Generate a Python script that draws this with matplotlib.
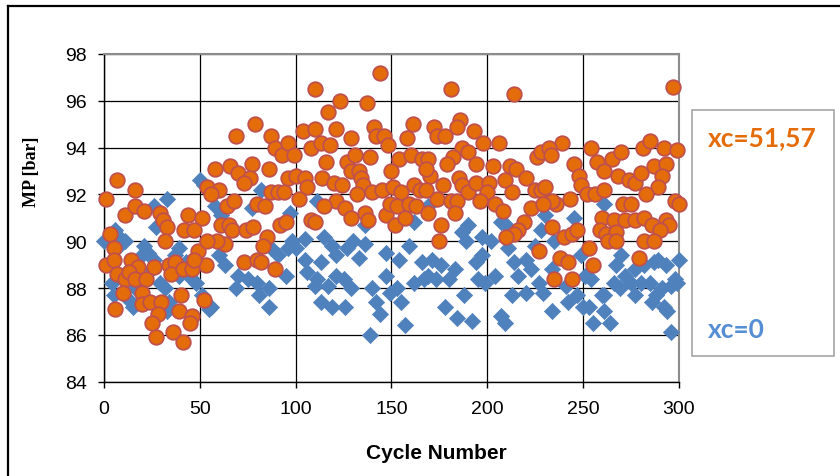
import matplotlib.pyplot as plt
from matplotlib.lines import Line2D
from matplotlib.patches import Rectangle

# (cycle, MP), xc=51,57 series
orange_pts = [
    (1, 91.8), (7, 92.6), (16, 92.2), (11, 91.1), (16, 91.5), (21, 91.3), (29, 91.2), (31, 90.9),
    (33, 90.6), (32, 90.0), (44, 91.1), (51, 91.0), (42, 90.5), (47, 90.5), (3, 90.3), (5, 89.7),
    (1, 89.0), (5, 89.2), (7, 88.6), (11, 88.4), (10, 87.8), (6, 87.1), (14, 89.2), (18, 88.9),
    (13, 88.7), (16, 88.4), (22, 88.4), (26, 88.9), (20, 87.8), (20, 87.3), (24, 87.4), (30, 87.4),
    (28, 86.9), (25, 86.5), (27, 85.9), (36, 86.1), (41, 85.7), (39, 87.0), (46, 86.8), (45, 86.5),
    (40, 87.7), (34, 89.0), (37, 89.1), (35, 88.6), (41, 88.8), (46, 88.8), (49, 89.6), (53, 89.0),
    (52, 87.5), (47, 89.2),
    (69, 94.5), (79, 95.0), (87, 94.5), (89, 94.0), (93, 93.7), (96, 94.2), (99, 93.7), (104, 94.7),
    (108, 94.0), (58, 93.1), (66, 93.2), (70, 92.9), (77, 93.3), (76, 92.7), (73, 92.5), (86, 93.1),
    (54, 92.3), (60, 92.2), (56, 92.0), (64, 91.5), (68, 91.7), (80, 91.6), (84, 91.5), (87, 92.1),
    (91, 92.1), (94, 92.1), (96, 92.7), (100, 92.8), (105, 92.7), (106, 92.3), (102, 91.8), (61, 90.7),
    (65, 90.7), (67, 90.5), (63, 89.9), (59, 90.0), (54, 90.0), (74, 90.5), (78, 90.6), (85, 90.2),
    (83, 89.8), (92, 90.7), (95, 90.8), (108, 90.9), (73, 89.1), (80, 89.2), (82, 89.1), (89, 88.8),
    (144, 97.2), (110, 96.5), (123, 96.0), (137, 95.9), (117, 95.5), (110, 94.8), (121, 94.8), (113, 94.2),
    (118, 94.1), (129, 94.4), (141, 94.9), (142, 94.5), (146, 94.5), (148, 94.1), (158, 94.4), (161, 95.0),
    (116, 93.4), (127, 93.4), (131, 93.7), (139, 93.6), (154, 93.5), (160, 93.7), (166, 93.5), (129, 93.0),
    (133, 93.0), (134, 92.7), (150, 93.0), (114, 92.7), (120, 92.5), (124, 92.4), (135, 92.4), (140, 92.1),
    (145, 92.2), (151, 92.3), (155, 92.1), (162, 92.4), (165, 92.2), (132, 92.0), (121, 91.7), (115, 91.5),
    (126, 91.4), (129, 91.0), (136, 91.2), (138, 90.9), (147, 91.1), (149, 91.6), (153, 91.5), (152, 90.7),
    (157, 91.0), (159, 91.6), (163, 91.5), (110, 90.8),
    (181, 96.5), (214, 96.3), (186, 95.2), (172, 94.9), (174, 94.5), (178, 94.5), (184, 94.9), (193, 94.7),
    (198, 94.2), (206, 94.2), (187, 94.0), (190, 93.8), (182, 93.6), (179, 93.3), (194, 93.3), (169, 93.5),
    (170, 92.8), (168, 93.1), (203, 93.2), (212, 93.2), (215, 93.1), (226, 93.6), (228, 93.8), (220, 92.7),
    (177, 92.4), (185, 92.7), (187, 92.4), (190, 92.1), (194, 92.5), (201, 92.5), (200, 92.1), (209, 92.6),
    (213, 92.1), (225, 92.2), (228, 92.2), (174, 91.8), (181, 91.7), (184, 91.7), (168, 92.2), (196, 91.7),
    (204, 91.6), (208, 91.3), (223, 91.4), (169, 91.2), (183, 91.2), (176, 90.7), (175, 90.0), (219, 90.8),
    (216, 90.5), (214, 90.3), (210, 90.2), (227, 89.6),
    (297, 96.6), (239, 94.2), (232, 94.0), (233, 93.7), (254, 94.0), (257, 93.4), (265, 93.5), (270, 93.8),
    (261, 93.0), (268, 92.8), (274, 92.6), (277, 92.5), (280, 92.9), (281, 94.0), (285, 94.3), (292, 94.0),
    (299, 93.9), (287, 93.2), (293, 93.3), (291, 92.8), (289, 92.3), (283, 92.0), (245, 93.3), (248, 92.8),
    (249, 92.4), (252, 92.0), (256, 92.0), (261, 92.2), (243, 91.8), (236, 91.6), (234, 91.7), (230, 92.3),
    (229, 91.6), (271, 91.6), (275, 91.6), (298, 91.7), (300, 91.6), (234, 90.6), (240, 90.2), (244, 90.3),
    (247, 90.5), (260, 91.0), (266, 90.9), (272, 90.9), (277, 90.9), (282, 91.0), (286, 90.7), (293, 90.9),
    (295, 90.7), (259, 90.5), (262, 90.3), (267, 90.4), (290, 90.5), (263, 90.0), (267, 90.0), (282, 90.0),
    (287, 90.0), (238, 89.3), (242, 89.1), (253, 89.7), (255, 89.0), (279, 89.3), (235, 88.4), (244, 88.4),
]

# (cycle, MP), xc=0 series
blue_pts = [
    (0, 90.0), (6, 90.5), (8, 90.2), (11, 90.0), (5, 87.7), (4, 88.2), (13, 87.5), (15, 87.2),
    (16, 88.0), (21, 89.8), (23, 89.5), (26, 89.2), (20, 89.4), (27, 90.6), (26, 91.5), (33, 91.8),
    (29, 88.2), (32, 88.0), (34, 87.4), (33, 87.0), (39, 89.7), (37, 89.4), (43, 89.1), (46, 88.4),
    (48, 88.2), (50, 92.6), (52, 92.4), (51, 87.7), (55, 87.1), (49, 89.1), (7, 89.7), (18, 88.5),
    (39, 88.5), (25, 88.8),
    (58, 91.5), (61, 91.1), (82, 92.2), (77, 91.4), (97, 91.2), (63, 89.0), (60, 89.4), (70, 88.5),
    (69, 88.0), (75, 88.4), (80, 88.2), (81, 87.7), (86, 87.2), (86, 88.0), (95, 88.5), (98, 90.0),
    (100, 89.7), (105, 90.1), (96, 89.7), (91, 89.4), (105, 89.2), (106, 88.7), (110, 88.1), (56, 87.2),
    (87, 89.7), (113, 89.1),
    (115, 90.2), (119, 89.8), (121, 89.4), (130, 90.0), (136, 89.9), (133, 89.3), (127, 89.7), (147, 89.5),
    (154, 89.2), (159, 89.8), (166, 89.1), (111, 88.4), (117, 88.1), (121, 88.5), (125, 88.4), (129, 88.0),
    (113, 87.4), (119, 87.2), (126, 87.2), (140, 88.0), (142, 87.4), (144, 86.9), (147, 88.5), (149, 87.8),
    (153, 88.0), (155, 87.4), (157, 86.4), (139, 86.0), (162, 88.2), (167, 88.4), (136, 90.7), (162, 90.8),
    (111, 91.7),
    (169, 91.5), (190, 90.7), (187, 90.4), (207, 90.8), (210, 90.7), (171, 89.2), (176, 89.0), (173, 88.4),
    (169, 88.5), (180, 88.4), (183, 88.8), (194, 89.1), (197, 89.4), (195, 88.4), (199, 88.2), (202, 90.0),
    (204, 88.5), (211, 89.7), (214, 89.1), (216, 88.5), (220, 89.2), (223, 88.8), (227, 88.2), (213, 87.7),
    (220, 87.8), (178, 87.2), (184, 86.7), (188, 87.7), (192, 86.6), (207, 86.8), (209, 86.5), (189, 90.0),
    (197, 90.2), (228, 90.5), (225, 89.8),
    (261, 91.6), (230, 91.1), (245, 91.0), (235, 90.0), (229, 87.8), (234, 88.8), (241, 88.1), (242, 87.4),
    (247, 87.7), (249, 89.4), (251, 88.5), (254, 88.4), (253, 87.2), (250, 87.2), (255, 86.5), (261, 87.0),
    (264, 86.5), (261, 87.7), (266, 88.2), (269, 88.0), (267, 89.0), (270, 89.4), (272, 88.5), (275, 88.2),
    (277, 87.7), (277, 88.8), (282, 89.0), (285, 88.2), (287, 89.1), (289, 89.2), (288, 87.7), (291, 88.0),
    (293, 89.0), (294, 87.0), (296, 88.1), (298, 88.4), (299, 88.2), (300, 89.2), (296, 86.1), (292, 87.2),
    (280, 88.2), (234, 87.0), (260, 87.7), (286, 87.4),
]

x_ticks = [0, 50, 100, 150, 200, 250, 300]
y_ticks = [84, 86, 88, 90, 92, 94, 96, 98]
legend_labels = ['xc=51,57', 'xc=0']

orange_x, orange_y = zip(*orange_pts)
blue_x, blue_y = zip(*blue_pts)

fig = plt.figure(figsize=(8.4, 4.77), dpi=100)
ax = fig.add_axes([0.1238, 0.1979, 0.6845, 0.6868])

ax.scatter(blue_x, blue_y, marker='D', s=68, c='#4F81BD', edgecolors='#4F81BD',
           linewidths=0.5, zorder=3, clip_on=False)
ax.scatter(orange_x, orange_y, marker='o', s=110, c='#E46C0A', edgecolors='#C0504D',
           linewidths=1.3, zorder=4, clip_on=False)

ax.set_xlim(0, 300)
ax.set_ylim(84, 98)
ax.set_xticks(x_ticks)
ax.set_yticks(y_ticks)
ax.grid(True, color='black', lw=0.9)
ax.set_axisbelow(True)

for side in ['top', 'right']:
    ax.spines[side].set_color('#8C8C8C')
    ax.spines[side].set_linewidth(1.5)
for side in ['left', 'bottom']:
    ax.spines[side].set_color('black')
    ax.spines[side].set_linewidth(1.0)

ax.tick_params(axis='both', labelsize=14, direction='out', length=4.5, width=1)
ax.tick_params(axis='y', pad=8)
ax.tick_params(axis='x', pad=9)
for lab in ax.get_xticklabels() + ax.get_yticklabels():
    lab.set_family('Liberation Sans')

ax.set_xlabel('Cycle Number', fontsize=15, fontweight='bold', family='Liberation Sans')
ax.xaxis.set_label_coords(0.578, -0.188)
ax.set_ylabel('MP [bar]', fontsize=13, fontweight='bold', family='Liberation Serif')
ax.yaxis.set_label_coords(-0.111, 0.645)

# legend box on the right
fig.add_artist(Rectangle((692 / 840, 1 - 357 / 477), 142 / 840, 246 / 477,
                         transform=fig.transFigure, fill=False, edgecolor='#A6A6A6', lw=1.2))
fig.text(708 / 840, 1 - 138 / 477, legend_labels[0], color='#E46C0A', fontsize=19,
         fontweight='bold', family='Lato', va='center', ha='left')
fig.text(708 / 840, 1 - 330 / 477, legend_labels[1], color='#558ED5', fontsize=19,
         fontweight='bold', family='Lato', va='center', ha='left')

# page frame around the chart
fig.add_artist(Line2D([8 / 840, 8 / 840], [0, 1 - 7 / 477], transform=fig.transFigure,
                      color='black', lw=1.6))
fig.add_artist(Line2D([8 / 840, 1], [1 - 7 / 477, 1 - 7 / 477], transform=fig.transFigure,
                      color='black', lw=1.6))

fig.savefig('out.png', dpi=100)
